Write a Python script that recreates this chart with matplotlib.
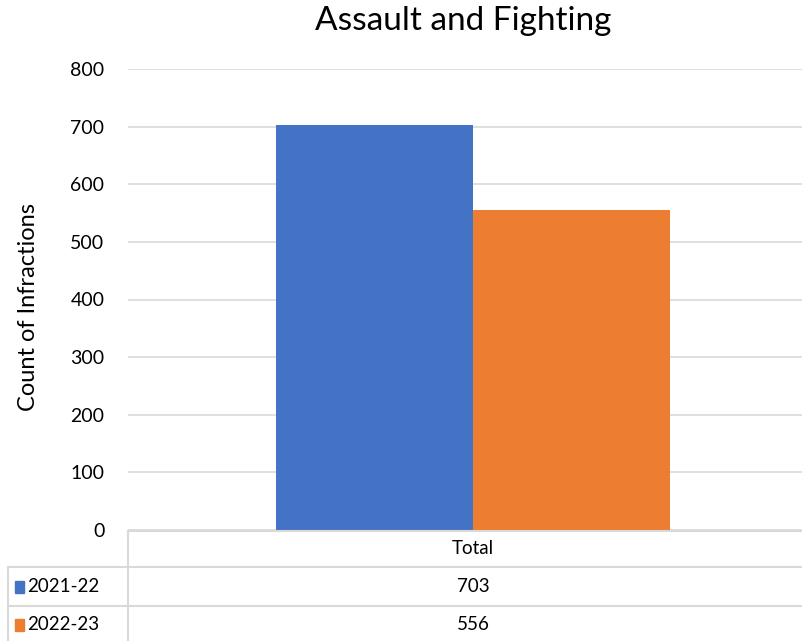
import matplotlib
matplotlib.use("Agg")
import matplotlib.pyplot as plt
from matplotlib.patches import Rectangle

plt.rcParams["font.family"] = ["Lato", "DejaVu Sans"]

# data
categories = ["Total"]
series = ["2021-22", "2022-23"]
values = [703, 556]
colors = ["#4472C4", "#ED7D31"]
yticks = [0, 100, 200, 300, 400, 500, 600, 700, 800]

W, H = 803, 641
fig = plt.figure(figsize=(W / 100, H / 100), dpi=100)

# plot area in pixel coords (right edge runs past the figure, as in the source)
left, right, top, bottom = 128, 818, 69, 530
ax = fig.add_axes([left / W, 1 - bottom / H, (right - left) / W, (bottom - top) / H])

bar_w = 0.2855
offsets = [-bar_w / 2, bar_w / 2]
for v, c, off in zip(values, colors, offsets):
    ax.bar(0.5 + off, v, width=bar_w, color=c, zorder=3)

ax.set_xlim(0, 1)
ax.set_ylim(0, 800)
ax.set_yticks(yticks)
ax.set_xticks([])
ax.tick_params(axis="y", length=0, pad=17, labelsize=14)
ax.grid(axis="y", color="#d9d9d9", lw=1.2, zorder=0)
for s in ax.spines.values():
    s.set_visible(False)
ax.set_ylabel("Count of Infractions", fontsize=17, va="center")
ax.yaxis.set_label_coords(-(128 - 29) / (right - left), 0.483)

fig.text(463 / W, 1 - 21 / H, "Assault and Fighting", ha="center", va="center", fontsize=24)

# data table drawn on an overlay in pixel coords
ov = fig.add_axes([0, 0, 1, 1], zorder=5)
ov.set_xlim(0, W)
ov.set_ylim(H, 0)
ov.axis("off")
lc = "#d9d9d9"
lw = 1.5
ov.plot([128, W], [531, 531], color=lc, lw=lw)
ov.plot([128, 128], [531, H], color=lc, lw=lw)
ov.plot([8, W], [567, 567], color=lc, lw=lw)
ov.plot([8, W], [606, 606], color=lc, lw=lw)
ov.plot([8, 8], [567, H], color=lc, lw=lw)

cx = 473
fs = 13.5
ov.text(cx, 549, categories[0], ha="center", va="center", fontsize=fs)
row_y = [587, 625]
for name, v, c, y in zip(series, values, colors, row_y):
    ov.add_patch(Rectangle((15, y - 6), 9, 12, color=c))
    ov.text(27, y, name, ha="left", va="center", fontsize=fs)
    ov.text(cx, y, f"{v}", ha="center", va="center", fontsize=fs)

fig.savefig("out.png", dpi=100)
